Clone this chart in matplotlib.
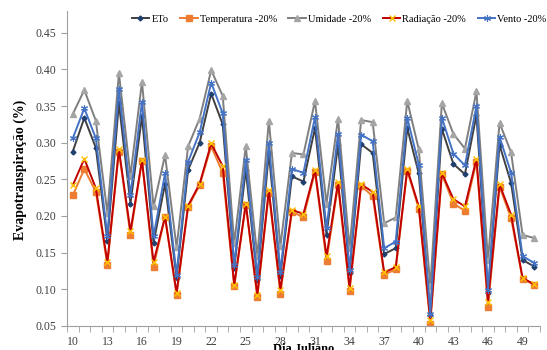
import matplotlib
matplotlib.use('Agg')
import matplotlib.pyplot as plt
import numpy as np

plt.rcParams['font.family'] = ['Liberation Serif', 'DejaVu Serif']

# Dia Juliano 10..50
days = list(range(10, 51))

eto = [0.288, 0.334, 0.293, 0.166, 0.354, 0.217, 0.336, 0.163, 0.244, 0.115,
       0.263, 0.300, 0.367, 0.325, 0.129, 0.263, 0.112, 0.286, 0.118, 0.254,
       0.247, 0.320, 0.174, 0.297, 0.122, 0.298, 0.286, 0.148, 0.156, 0.320,
       0.258, 0.065, 0.319, 0.271, 0.257, 0.338, 0.095, 0.297, 0.245, 0.140,
       0.131]
temperatura = [0.228, 0.264, 0.233, 0.133, 0.288, 0.174, 0.275, 0.131, 0.198, 0.092,
               0.212, 0.242, 0.295, 0.259, 0.104, 0.215, 0.089, 0.232, 0.094, 0.206,
               0.198, 0.260, 0.139, 0.242, 0.098, 0.241, 0.227, 0.120, 0.127, 0.262,
               0.210, 0.053, 0.257, 0.217, 0.207, 0.274, 0.076, 0.240, 0.197, 0.114,
               0.106]
umidade = [0.339, 0.372, 0.330, 0.204, 0.395, 0.255, 0.383, 0.213, 0.283, 0.157,
           0.295, 0.333, 0.399, 0.364, 0.163, 0.295, 0.145, 0.330, 0.159, 0.286,
           0.284, 0.357, 0.217, 0.333, 0.156, 0.331, 0.328, 0.190, 0.198, 0.357,
           0.291, 0.104, 0.354, 0.312, 0.292, 0.370, 0.140, 0.327, 0.287, 0.174,
           0.170]
radiacao = [0.242, 0.278, 0.238, 0.137, 0.291, 0.179, 0.276, 0.137, 0.199, 0.095,
            0.214, 0.244, 0.299, 0.268, 0.106, 0.217, 0.092, 0.235, 0.099, 0.208,
            0.203, 0.263, 0.145, 0.246, 0.102, 0.243, 0.233, 0.123, 0.130, 0.264,
            0.213, 0.058, 0.259, 0.223, 0.213, 0.278, 0.083, 0.243, 0.202, 0.115,
            0.107]
vento = [0.306, 0.347, 0.306, 0.173, 0.374, 0.228, 0.356, 0.172, 0.258, 0.120,
         0.274, 0.314, 0.382, 0.340, 0.133, 0.276, 0.117, 0.300, 0.124, 0.264,
         0.259, 0.335, 0.183, 0.312, 0.126, 0.311, 0.302, 0.156, 0.165, 0.334,
         0.270, 0.066, 0.334, 0.285, 0.269, 0.350, 0.099, 0.308, 0.259, 0.145,
         0.136]

fig = plt.figure(figsize=(5.47, 3.5), dpi=100)
ax = fig.add_axes([0.1225, 0.069, 0.8645, 0.9])

ax.plot(days, eto, color='#404040', lw=1.4, marker='D', markersize=2.5,
        markerfacecolor='#1F3F6E', markeredgecolor='#1F3F6E', label='ETo')
ax.plot(days, temperatura, color='#ED7D31', lw=1.4, marker='s', markersize=4,
        markerfacecolor='#ED7D31', markeredgecolor='#ED7D31', label='Temperatura -20%')
ax.plot(days, umidade, color='#7F7F7F', lw=1.4, marker='^', markersize=4,
        markerfacecolor='#A5A5A5', markeredgecolor='#A5A5A5', label='Umidade -20%')
ax.plot(days, radiacao, color='#C00000', lw=1.4, marker='x', markersize=4,
        markeredgecolor='#FFC000', markeredgewidth=1.0, label='Radiação -20%')
ax.plot(days, vento, color='#4472C4', lw=1.4, marker=(6, 2, 0), markersize=5,
        markeredgecolor='#4472C4', markeredgewidth=0.8, label='Vento -20%')

ax.set_xlim(9.5, 50.5)
ax.set_ylim(0.05, 0.48)
ax.set_yticks(np.arange(0.05, 0.451, 0.05))
ax.set_yticklabels([f'{v:.2f}' for v in np.arange(0.05, 0.451, 0.05)])
ax.set_xticks(list(range(10, 51, 3)))
ax.set_xticks(np.arange(9.5, 51, 1), minor=True)
ax.tick_params(axis='x', which='major', length=0, pad=7, labelsize=8.5, colors='#404040')
ax.tick_params(axis='x', which='minor', length=4, color='#A0A0A0')
ax.tick_params(axis='y', length=4, color='#A0A0A0', labelsize=8.5, labelcolor='#404040')

for s in ['top', 'right']:
    ax.spines[s].set_visible(False)
for s in ['left', 'bottom']:
    ax.spines[s].set_color('#A0A0A0')

fig.text(0.037, 0.514, 'Evapotranspiração (%)', rotation=90, ha='center', va='center',
         fontsize=10, fontweight='bold')
fig.text(0.555, 0.021, 'Dia Juliano', ha='center', va='top', fontsize=9, fontweight='bold')

fig.legend(loc='center', bbox_to_anchor=(0.62, 0.946), ncol=5, frameon=False,
           fontsize=7.5, handlelength=1.7, handletextpad=0.2, columnspacing=1.1,
           borderpad=0.1, borderaxespad=0)

plt.savefig('out.png', dpi=100)
plt.close()
